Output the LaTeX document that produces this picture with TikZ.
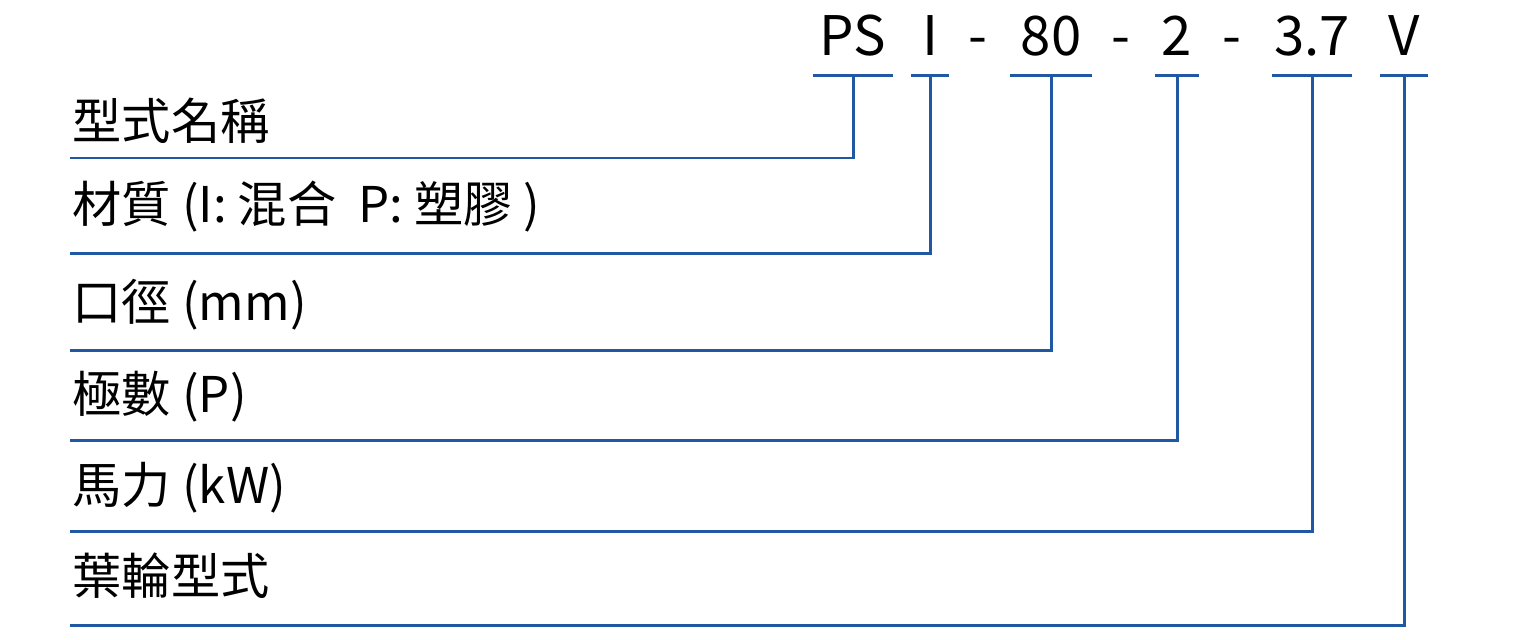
\documentclass[tikz,border=0pt]{standalone}
\usepackage{fontspec}
\setmainfont{Noto Sans CJK TC}
\usepackage{xcolor}
\definecolor{leadblue}{RGB}{33,88,164}

\begin{document}
\begin{tikzpicture}[x=0.01cm,y=-0.01cm,every node/.style={inner sep=0pt},
  code/.style={font=\fontsize{15.5}{18}\selectfont,anchor=base,text depth=0pt,inner ysep=0.2cm},
  item/.style={font=\fontsize{14}{17}\selectfont,anchor=base west},
  lead/.style={draw=leadblue,line width=0.85pt}]
\useasboundingbox (0,0) rectangle (1536,639);
\node[code,minimum width=0.79cm] (ps) at (853,55) {PS};
\node[code,minimum width=0.37cm] (mat) at (930,55) {I};
\node[code] (d1) at (978,55) {-};
\node[code,minimum width=0.80cm] (bore) at (1051,55) {80};
\node[code] (d2) at (1121,55) {-};
\node[code,minimum width=0.43cm] (pole) at (1177,55) {2};
\node[code] (d3) at (1232,55) {-};
\node[code,minimum width=0.78cm] (kw) at (1312,55) {3.7};
\node[code,minimum width=0.47cm] (imp) at (1404,55) {V};
\node[item] (l1) at (72,139) {型式名稱};
\node[item] (l2) at (72,222) {材質 (I: 混合\ \ P: 塑膠 )};
\node[item] (l3) at (72,320) {口徑 (mm)};
\node[item] (l4) at (72,412) {極數 (P)};
\node[item] (l5) at (72,503) {馬力 (kW)};
\node[item] (l6) at (72,594) {葉輪型式};
\coordinate (e1) at (70,158);
\coordinate (e2) at (70,253);
\coordinate (e3) at (70,350);
\coordinate (e4) at (70,440);
\coordinate (e5) at (70,531);
\coordinate (e6) at (70,625);
\foreach \c/\e in {ps/e1,mat/e2,bore/e3,pole/e4,kw/e5,imp/e6}{
  \draw[lead] (\c.south west) -- (\c.south east);
  \draw[lead] (\c.south) |- (\e);
}
\end{tikzpicture}
\end{document}
